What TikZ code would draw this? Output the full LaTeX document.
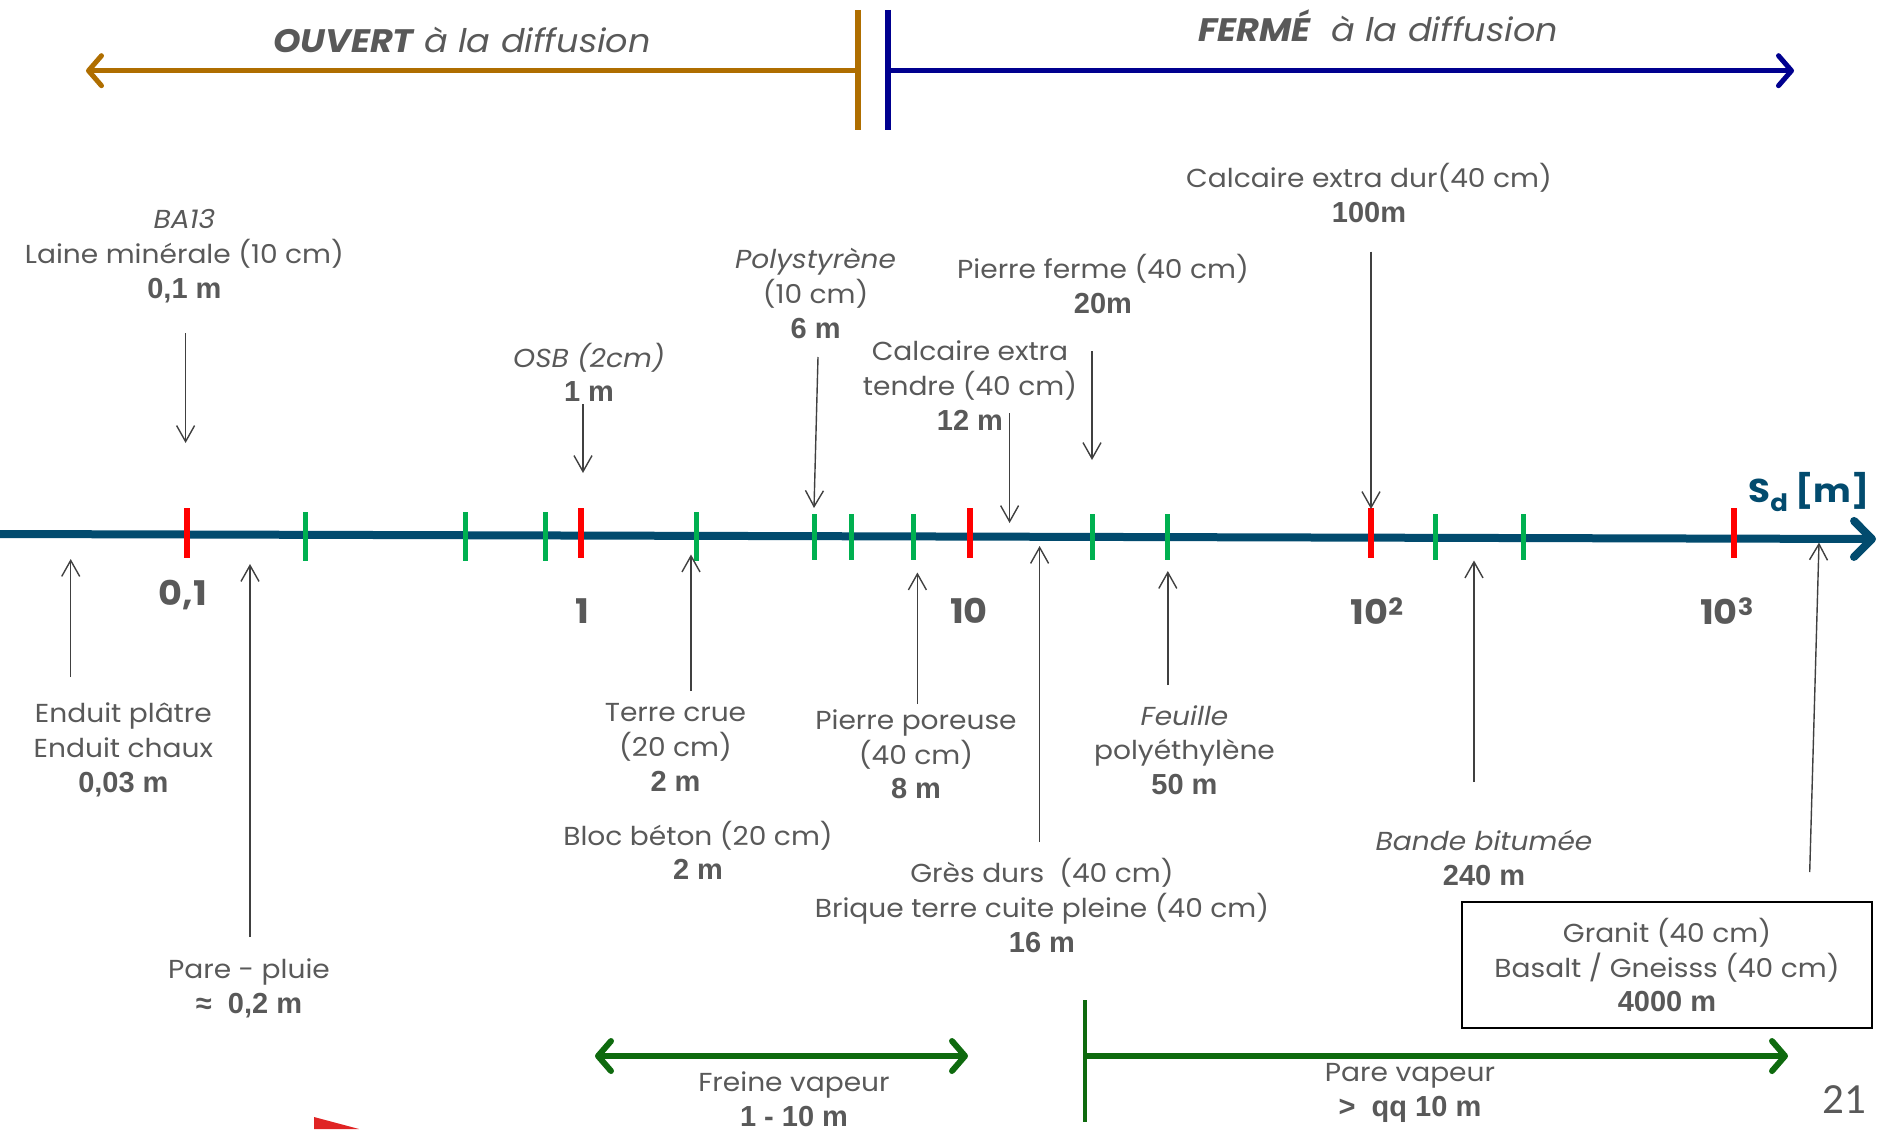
\documentclass[tikz,border=0pt]{standalone}
\usepackage{fontspec}
\setmainfont{Poppins}[FakeStretch=1.08]
\newfontfamily\valfont{Liberation Sans}
\newfontfamily\pagefont{Carlito}
\usetikzlibrary{arrows.meta}
\pgfdeclarelayer{bg}
\pgfsetlayers{bg,main}
\definecolor{txtgray}{HTML}{595959}
\definecolor{arrgray}{HTML}{404040}
\definecolor{openbrown}{HTML}{AF6E00}
\definecolor{closedblue}{HTML}{00008F}
\definecolor{axisteal}{HTML}{024B6E}
\definecolor{tickred}{HTML}{FF0000}
\definecolor{tickgreen}{HTML}{00B050}
\definecolor{vapgreen}{HTML}{0E6A0E}
\definecolor{cornerred}{HTML}{E02424}
\newcommand{\lblsize}{\fontsize{26}{34.7}\selectfont}
\newcommand{\sdval}[1]{{\valfont\bfseries\upshape\fontsize{29}{34.7}\selectfont #1}}
\tikzset{
    every node/.style={inner sep=0pt, text=txtgray, align=center, font=\lblsize}
}
\tikzset{
    pointer/.style={draw=arrgray, line width=1.4pt, -{Straight Barb[length=16pt,width=18pt]}},
    chevron/.style={line width=5pt, -{Straight Barb[length=13pt,width=30pt,round]}},
    redtick/.style={draw=tickred, line width=6pt},
    greentick/.style={draw=tickgreen, line width=5pt},
    ticklabel/.style={font=\fontsize{34}{40}\selectfont\bfseries}
}

\begin{document}
\begin{tikzpicture}[x=1pt, y=-1pt]
        \useasboundingbox (0,0) rectangle (1878,1129);
        % open / closed headers
        \node (ouvert) at (462, 40) {\fontsize{32.5}{38}\selectfont\itshape{\bfseries OUVERT} à la diffusion};
        \node (ferme) at (1378, 26) {\fontsize{32.5}{38}\selectfont\itshape{\bfseries FERMÉ}\ \ à la diffusion};
        \coordinate (o0) at (857.6, 10);
        \coordinate (o1) at (857.6, 130);
        \coordinate (o2) at (857.6, 70.7);
        \coordinate (o3) at (86, 70.7);
        \coordinate (f0) at (887.5, 10);
        \coordinate (f1) at (887.5, 130);
        \coordinate (f2) at (887.5, 70.7);
        \coordinate (f3) at (1794, 70.7);
        \draw (o0) edge [draw=openbrown, line width=6pt] (o1);
        \draw (o2) edge [draw=openbrown, chevron] (o3);
        \draw (f0) edge [draw=closedblue, line width=6pt] (f1);
        \draw (f2) edge [draw=closedblue, chevron] (f3);

        % axis
        \coordinate (ax0) at (0, 534);
        \coordinate (ax1) at (1876, 539);
        \node (sd) at (1809, 492) {\fontsize{33}{40}\selectfont\bfseries\color{axisteal}S\raisebox{-0.3em}{\fontsize{24}{24}\selectfont d} [m]};
        \begin{pgfonlayer}{bg}
                \draw (ax0) edge [draw=axisteal, line width=8pt, -{Straight Barb[length=18pt,width=36pt,round]}] (ax1);
        \end{pgfonlayer}
        \draw[redtick] (187, 508) -- (187, 558);
        \draw[greentick] (305.4, 512) -- (305.4, 561);
        \draw[greentick] (465.9, 512) -- (465.9, 561);
        \draw[greentick] (545, 512) -- (545, 561);
        \draw[redtick] (581, 508) -- (581, 558);
        \draw[greentick] (696, 512) -- (696, 561);
        \draw[greentick] (814.4, 514) -- (814.4, 560);
        \draw[greentick] (851.6, 514) -- (851.6, 560);
        \draw[greentick] (913.9, 514) -- (913.9, 560);
        \draw[redtick] (970, 508) -- (970, 558);
        \draw[greentick] (1092.3, 514) -- (1092.3, 560);
        \draw[greentick] (1167.8, 514) -- (1167.8, 560);
        \draw[redtick] (1371, 508) -- (1371, 558);
        \draw[greentick] (1435, 514) -- (1435, 560);
        \draw[greentick] (1523.5, 514) -- (1523.5, 560);
        \draw[redtick] (1734, 508) -- (1734, 558);
        \node (t01) [ticklabel] at (183, 595) {0,1};
        \node (t1) [ticklabel] at (582, 611) {1};
        \node (t10) [ticklabel] at (969, 611) {10};
        \node (t100) [ticklabel] at (1377, 611) {10\textsuperscript{2}};
        \node (t1000) [ticklabel] at (1727, 611) {10\textsuperscript{3}};

        % materials above the axis
        \node (ba13) at (184.4, 256.3) {\itshape BA13\\Laine minérale (10 cm)\\\sdval{0,1 m}};
        \node (osb) at (589, 372.4) {\itshape OSB (2cm)\\\sdval{1 m}};
        \node (poly) at (815.6, 293.4) {\itshape Polystyrène\\(10 cm)\\\sdval{6 m}};
        \node (ctendre) at (970, 385.6) {Calcaire extra\\tendre (40 cm)\\\sdval{12 m}};
        \node (pferme) at (1103, 283.8) {Pierre ferme (40 cm)\\\sdval{20m}};
        \node (cdur) at (1369, 192.8) {Calcaire extra dur(40 cm)\\\sdval{100m}};
        \coordinate (ba0) at (185.6, 333);
        \coordinate (ba1) at (185.6, 443);
        \coordinate (osb0) at (583, 404);
        \coordinate (osb1) at (583, 473);
        \coordinate (poly0) at (818, 357);
        \coordinate (poly1) at (814, 508);
        \coordinate (ct0) at (1009.6, 413);
        \coordinate (ct1) at (1009.6, 523);
        \coordinate (pf0) at (1092, 351);
        \coordinate (pf1) at (1092, 460);
        \coordinate (cd0) at (1371, 251.5);
        \coordinate (cd1) at (1371, 509);
        \draw (ba0) edge [pointer] (ba1);
        \draw (osb0) edge [pointer] (osb1);
        \draw (poly0) edge [pointer] (poly1);
        \draw (ct0) edge [pointer] (ct1);
        \draw (pf0) edge [pointer] (pf1);
        \draw (cd0) edge [pointer] (cd1);

        % materials below the axis
        \node (enduit) at (123.4, 750) {Enduit plâtre\\Enduit chaux\\\sdval{0,03 m}};
        \node (pluie) at (249, 988) {Pare - pluie\\\sdval{≈\ \ 0,2 m}};
        \node (terre) at (675.5, 747.4) {Terre crue\\(20 cm)\\\sdval{2 m}};
        \node (bloc) at (698, 850.3) {Bloc béton (20 cm)\\\sdval{2 m}};
        \node (poreuse) at (916, 754.5) {Pierre poreuse\\(40 cm)\\\sdval{8 m}};
        \node (feuille) at (1184.5, 750) {\itshape Feuille\\polyéthylène\\\sdval{50 m}};
        \node (gres) at (1042, 905.5) {Grès durs\ \ (40 cm)\\Brique terre cuite pleine (40 cm)\\\sdval{16 m}};
        \node (bande) at (1484, 858.3) {\itshape Bande bitumée\\\sdval{240 m}};
        \node (granit) [draw=black, line width=2pt, minimum width=410pt, minimum height=126pt] at (1667, 965) {Granit (40 cm)\\Basalt / Gneisss (40 cm)\\\sdval{4000 m}};
        \coordinate (en0) at (70.7, 677);
        \coordinate (en1) at (70.7, 559);
        \coordinate (pp0) at (250, 937);
        \coordinate (pp1) at (250, 564);
        \coordinate (tc0) at (691, 691);
        \coordinate (tc1) at (691, 554.5);
        \coordinate (po0) at (917.4, 704);
        \coordinate (po1) at (917.4, 572.5);
        \coordinate (gd0) at (1039.6, 842);
        \coordinate (gd1) at (1039.6, 546);
        \coordinate (fp0) at (1167.8, 685);
        \coordinate (fp1) at (1167.8, 571);
        \coordinate (bb0) at (1474, 782);
        \coordinate (bb1) at (1474, 560.5);
        \coordinate (gr0) at (1809.7, 872);
        \coordinate (gr1) at (1819, 542.6);
        \draw (en0) edge [pointer] (en1);
        \draw (pp0) edge [pointer] (pp1);
        \draw (tc0) edge [pointer] (tc1);
        \draw (po0) edge [pointer] (po1);
        \draw (gd0) edge [pointer] (gd1);
        \draw (fp0) edge [pointer] (fp1);
        \draw (bb0) edge [pointer] (bb1);
        \draw (gr0) edge [pointer] (gr1);

        % vapour barriers
        \node (freine) at (794, 1099) {Freine vapeur\\\sdval{1 - 10 m}};
        \node (parev) at (1410, 1093) {Pare vapeur\\\sdval{>\ \ qq 10 m}};
        \coordinate (fv0) at (595, 1056);
        \coordinate (fv1) at (968, 1056);
        \coordinate (pv0) at (1085, 1000);
        \coordinate (pv1) at (1085, 1122);
        \coordinate (pv2) at (1085, 1056);
        \coordinate (pv3) at (1788, 1056);
        \draw (fv0) edge [draw=vapgreen, chevron, line width=6pt, {Straight Barb[length=13pt,width=30pt,round]}-{Straight Barb[length=13pt,width=30pt,round]}] (fv1);
        \draw (pv0) edge [draw=vapgreen, line width=4pt] (pv1);
        \draw (pv2) edge [draw=vapgreen, chevron, line width=6pt] (pv3);

        \node (page) at (1844, 1099.5) {\pagefont\fontsize{43}{44}\selectfont 21};
        \fill[cornerred] (314, 1117) -- (314, 1129) -- (359, 1129) -- cycle;
\end{tikzpicture}
\end{document}
